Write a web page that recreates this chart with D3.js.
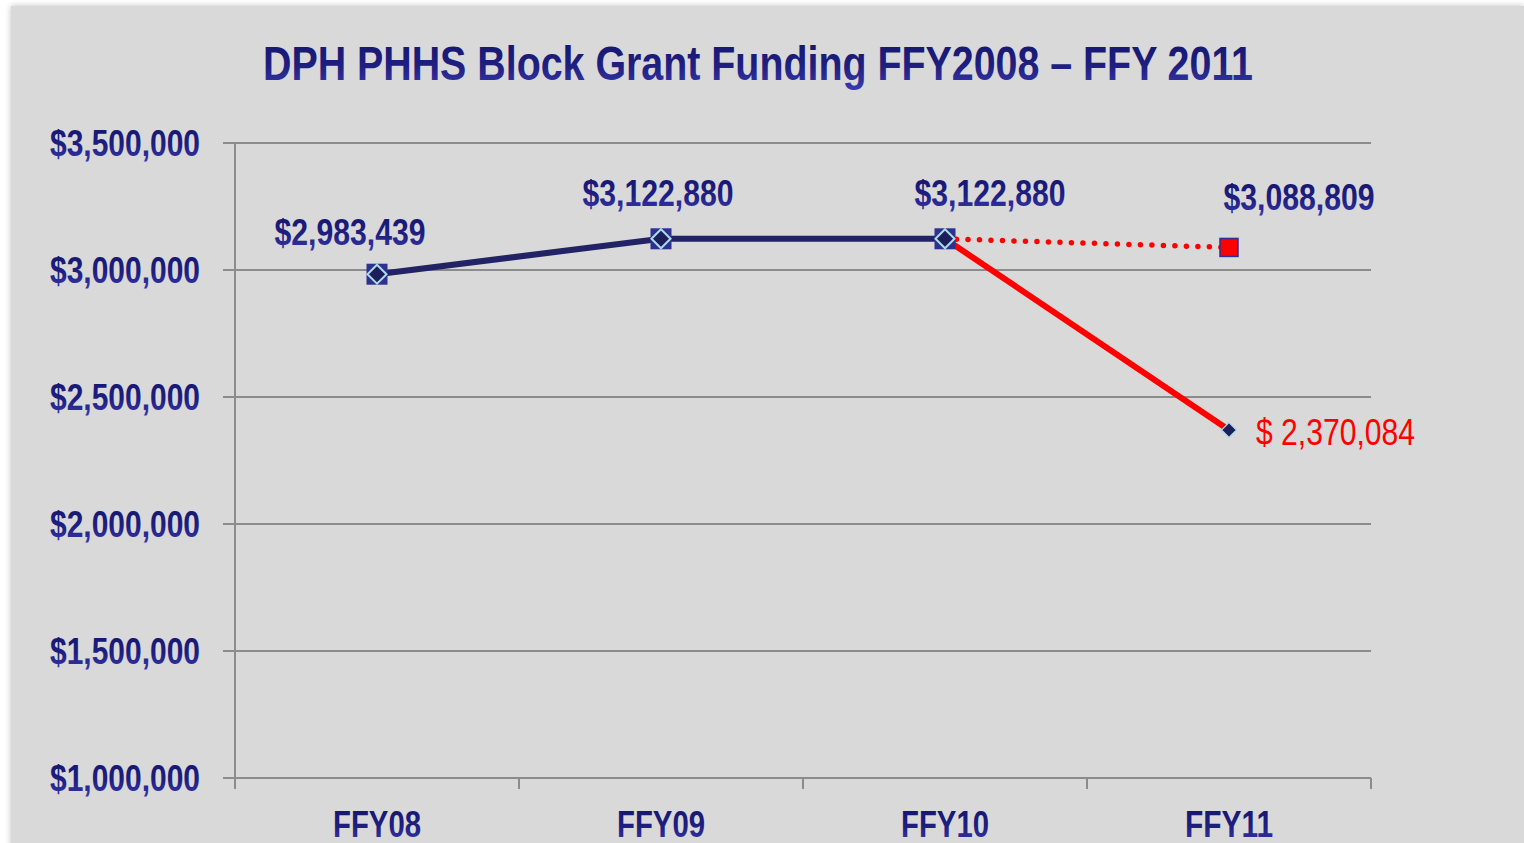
<!DOCTYPE html>
<html>
<head>
<meta charset="utf-8">
<script src="https://cdn.jsdelivr.net/npm/d3@7"></script>
<style>
  html, body { margin: 0; padding: 0; background: #fff; }
  svg { display: block; }
  .narrow { font-family: "Liberation Sans Narrow", "Arial Narrow", "Liberation Sans", Arial, sans-serif; }
</style>
</head>
<body>
<svg id="chart" width="1524" height="843"></svg>
<script>
// data
const categories = ["FFY08", "FFY09", "FFY10", "FFY11"];
const fundedValues = [2983439, 3122880, 3122880];   // solid navy line
const projectedValues = [3122880, 3088809];          // dotted red, FFY10 -> FFY11
const cutValues = [3122880, 2370084];                // solid red, FFY10 -> FFY11
const yTicks = [1000000, 1500000, 2000000, 2500000, 3000000, 3500000];
const titleText = "DPH PHHS Block Grant Funding FFY2008 \u2013 FFY 2011";

const W = 1524, H = 843;
const svg = d3.select("#chart");

// gradient for blue text
const defs = svg.append("defs");
const grad = defs.append("linearGradient").attr("id", "txtGrad")
  .attr("x1", 0).attr("y1", 0).attr("x2", 0).attr("y2", 1);
grad.append("stop").attr("offset", "0%").attr("stop-color", "#14146e");
grad.append("stop").attr("offset", "55%").attr("stop-color", "#1f1f80");
grad.append("stop").attr("offset", "100%").attr("stop-color", "#3a3ab0");

const shadow = defs.append("filter").attr("id", "shadow")
  .attr("x", "-2%").attr("y", "-2%").attr("width", "104%").attr("height", "104%");
shadow.append("feGaussianBlur").attr("in", "SourceAlpha").attr("stdDeviation", 3);
shadow.append("feComponentTransfer").append("feFuncA").attr("type", "linear").attr("slope", 0.25);
const merge = shadow.append("feMerge");
merge.append("feMergeNode");
merge.append("feMergeNode").attr("in", "SourceGraphic");

// panel background
svg.append("rect")
  .attr("x", 11).attr("y", 6).attr("width", W - 11).attr("height", H)
  .attr("fill", "#d9d9d9").attr("filter", "url(#shadow)");

const m = { left: 235, right: 1371, top: 143, bottom: 778 };

const x = d3.scaleBand().domain(categories).range([m.left, m.right]);
const y = d3.scaleLinear().domain([1000000, 3500000]).range([m.bottom, m.top]);
const cx = c => x(c) + x.bandwidth() / 2;

// narrow look: squeeze the text to a set width
function squeeze(sel, w) {
  return sel.attr("textLength", w).attr("lengthAdjust", "spacingAndGlyphs");
}

// title
squeeze(svg.append("text")
  .attr("x", 263).attr("y", 80)
  .attr("font-family", "Liberation Sans, Arial, sans-serif")
  .attr("font-weight", "bold").attr("font-size", 48)
  .attr("fill", "url(#txtGrad)")
  .text(titleText), 990);

// horizontal gridlines + left tick stubs
svg.append("g").selectAll("line").data(yTicks).join("line")
  .attr("x1", m.left - 12).attr("x2", m.right)
  .attr("y1", d => y(d)).attr("y2", d => y(d))
  .attr("stroke", "#8c8c8c").attr("stroke-width", 2);

// y axis line
svg.append("line")
  .attr("x1", m.left).attr("x2", m.left)
  .attr("y1", m.top).attr("y2", m.bottom + 11)
  .attr("stroke", "#8c8c8c").attr("stroke-width", 2);

// x axis ticks at band edges
const edges = categories.map(c => x(c)).concat([m.right]);
svg.append("g").selectAll("line").data(edges.slice(1)).join("line")
  .attr("x1", d => d).attr("x2", d => d)
  .attr("y1", m.bottom).attr("y2", m.bottom + 11)
  .attr("stroke", "#8c8c8c").attr("stroke-width", 2);

// y labels
const fmt = d3.format("$,.0f");
squeeze(svg.append("g").selectAll("text").data(yTicks).join("text")
  .attr("class", "narrow").style("font-weight", "bold")
  .attr("x", 200).attr("y", d => y(d) + 13)
  .attr("text-anchor", "end").attr("font-size", 36)
  .attr("fill", "url(#txtGrad)")
  .text(d => fmt(d)), 150);

// x labels
squeeze(svg.append("g").selectAll("text").data(categories).join("text")
  .attr("class", "narrow").style("font-weight", "bold")
  .attr("x", d => cx(d)).attr("y", 837)
  .attr("text-anchor", "middle").attr("font-size", 36)
  .attr("fill", "url(#txtGrad)")
  .text(d => d), 88);

// lines
const line = d3.line().x(d => cx(d[0])).y(d => y(d[1]));
const tail = categories.slice(2);

svg.append("path")
  .datum(tail.map((c, i) => [c, projectedValues[i]]))
  .attr("d", line).attr("fill", "none")
  .attr("stroke", "#ff0000").attr("stroke-width", 5.5)
  .attr("stroke-linecap", "round").attr("stroke-dasharray", "0 11.5");

svg.append("path")
  .datum(tail.map((c, i) => [c, cutValues[i]]))
  .attr("d", line).attr("fill", "none")
  .attr("stroke", "#ff0000").attr("stroke-width", 6);

svg.append("path")
  .datum(categories.slice(0, 3).map((c, i) => [c, fundedValues[i]]))
  .attr("d", line).attr("fill", "none")
  .attr("stroke", "#222266").attr("stroke-width", 6);

// markers
const diamond = (g, px, py, r) => g.append("path")
  .attr("d", `M${px},${py - r}L${px + r},${py}L${px},${py + r}L${px - r},${py}Z`)
  .attr("fill", "#1e1e5c").attr("stroke", "#a9dde6").attr("stroke-width", 2);

const mk = svg.append("g");
categories.slice(0, 3).forEach((c, i) => {
  const px = cx(c), py = y(fundedValues[i]);
  mk.append("rect").attr("x", px - 10.5).attr("y", py - 10.5)
    .attr("width", 21).attr("height", 21).attr("fill", "#2e3192");
  diamond(mk, px, py, 9.5);
});

// projected FFY11 red square
mk.append("rect")
  .attr("x", cx("FFY11") - 9).attr("y", y(projectedValues[1]) - 9)
  .attr("width", 18).attr("height", 18)
  .attr("fill", "#ff0000").attr("stroke", "#2e3192").attr("stroke-width", 1.5);

// cut FFY11 small diamond
diamond(mk, cx("FFY11"), y(cutValues[1]), 7.5).attr("stroke-width", 1.2);

// data labels
const labels = [
  { c: "FFY08", v: fundedValues[0], dx: -27, dy: -29, anchor: "middle", bold: true, color: "url(#txtGrad)", text: fmt(fundedValues[0]), w: 151 },
  { c: "FFY09", v: fundedValues[1], dx: -3, dy: -33, anchor: "middle", bold: true, color: "url(#txtGrad)", text: fmt(fundedValues[1]), w: 151 },
  { c: "FFY10", v: fundedValues[2], dx: 45, dy: -33, anchor: "middle", bold: true, color: "url(#txtGrad)", text: fmt(fundedValues[2]), w: 151 },
  { c: "FFY11", v: projectedValues[1], dx: 70, dy: -37, anchor: "middle", bold: true, color: "url(#txtGrad)", text: fmt(projectedValues[1]), w: 151 },
  { c: "FFY11", v: cutValues[1], dx: 27, dy: 15, anchor: "start", bold: false, color: "#ff0000", text: "$ " + d3.format(",")(cutValues[1]), w: 159 }
];
svg.append("g").selectAll("text").data(labels).join("text")
  .attr("class", "narrow")
  .style("font-weight", d => d.bold ? "bold" : "normal")
  .attr("x", d => cx(d.c) + d.dx).attr("y", d => y(d.v) + d.dy)
  .attr("text-anchor", d => d.anchor).attr("font-size", 36)
  .attr("fill", d => d.color)
  .attr("textLength", d => d.w).attr("lengthAdjust", "spacingAndGlyphs")
  .text(d => d.text);
</script>
</body>
</html>
